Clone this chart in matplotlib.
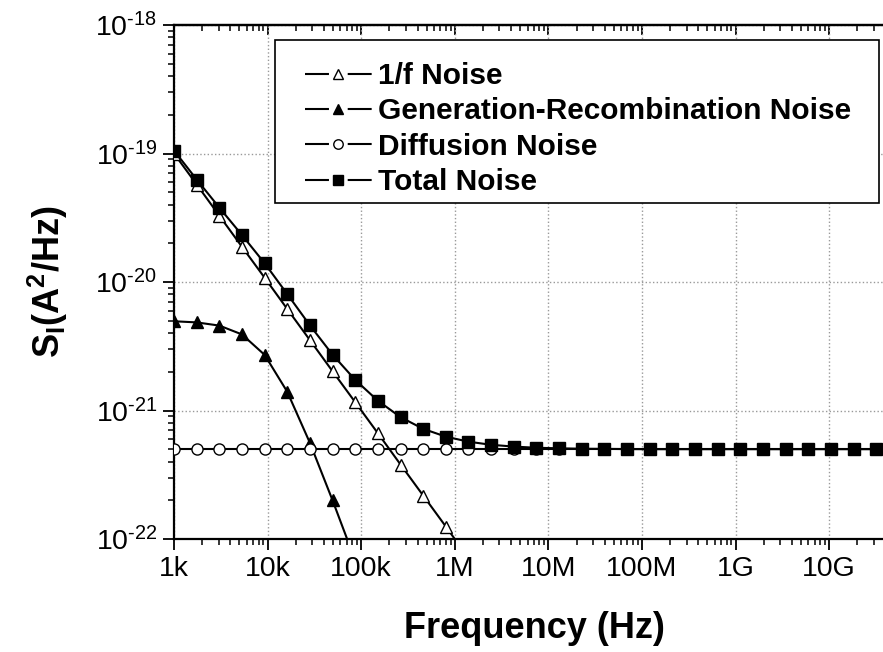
import matplotlib
matplotlib.use("Agg")
import matplotlib.pyplot as plt
from matplotlib.lines import Line2D
from matplotlib.patches import Rectangle
from matplotlib.ticker import FixedLocator, FixedFormatter, LogLocator, NullFormatter

plt.rcParams['font.family'] = ['Liberation Sans', 'DejaVu Sans']
plt.rcParams['mathtext.fontset'] = 'custom'
plt.rcParams['mathtext.rm'] = 'Liberation Sans'
plt.rcParams['mathtext.bf'] = 'Liberation Sans:bold'
plt.rcParams['axes.unicode_minus'] = False

# frequency points (Hz), log spaced
freq = [1.0e3, 1.75e3, 3.05e3, 5.32e3, 9.29e3, 1.62e4, 2.83e4, 4.94e4,
        8.63e4, 1.51e5, 2.63e5, 4.59e5, 8.02e5, 1.40e6, 2.44e6, 4.26e6,
        7.44e6, 1.30e7, 2.27e7, 3.96e7, 6.91e7, 1.21e8, 2.11e8, 3.68e8,
        6.42e8, 1.12e9, 1.96e9, 3.42e9, 5.96e9, 1.04e10, 1.82e10, 3.16e10]

one_f = [1.0e-19, 5.73e-20, 3.28e-20, 1.88e-20, 1.08e-20, 6.17e-21, 3.53e-21,
         2.02e-21, 1.16e-21, 6.64e-22, 3.80e-22, 2.18e-22, 1.25e-22, 7.1e-23]

gen_rec = [4.95e-21, 4.85e-21, 4.58e-21, 3.91e-21, 2.71e-21, 1.40e-21,
           5.6e-22, 2.0e-22, 6.8e-23]

diffusion = [5.0e-22] * 32

total = [1.055e-19, 6.26e-20, 3.79e-20, 2.32e-20, 1.40e-20, 8.06e-21,
         4.60e-21, 2.72e-21, 1.73e-21, 1.19e-21, 8.88e-22, 7.20e-22,
         6.26e-22, 5.72e-22, 5.41e-22, 5.24e-22, 5.13e-22, 5.08e-22,
         5.04e-22, 5.03e-22, 5.01e-22, 5.0e-22, 5.0e-22, 5.0e-22,
         5.0e-22, 5.0e-22, 5.0e-22, 5.0e-22, 5.0e-22, 5.0e-22, 5.0e-22, 5.0e-22]

xtick_vals = [1e3, 1e4, 1e5, 1e6, 1e7, 1e8, 1e9, 1e10]
xtick_labels = ['1k', '10k', '100k', '1M', '10M', '100M', '1G', '10G']
ytick_vals = [1e-22, 1e-21, 1e-20, 1e-19, 1e-18]
ytick_labels = [r'$\mathregular{10^{\text{-}22}}$', r'$\mathregular{10^{\text{-}21}}$',
                r'$\mathregular{10^{\text{-}20}}$', r'$\mathregular{10^{\text{-}19}}$',
                r'$\mathregular{10^{\text{-}18}}$']

labels = ['1/f Noise', 'Generation-Recombination Noise', 'Diffusion Noise', 'Total Noise']

fig = plt.figure(figsize=(8.83, 6.52), dpi=100)
W, H = 883, 652
ax = fig.add_axes([0.1971, 0.1733, 0.8029, 0.7883])

lw = 1.5
ax.plot(freq[:len(one_f)], one_f, '-', color='black', lw=lw, marker='^',
        ms=9, mfc='white', mec='black', mew=1, zorder=3)
ax.plot(freq[:len(gen_rec)], gen_rec, '-', color='black', lw=lw, marker='^',
        ms=9, mfc='black', mec='black', mew=1, zorder=3)
ax.plot(freq, diffusion, '-', color='black', lw=lw, marker='o',
        ms=8, mfc='white', mec='black', mew=1, zorder=4)
ax.plot(freq, total, '-', color='black', lw=lw, marker='s',
        ms=8, mfc='black', mec='black', mew=1, zorder=5)

ax.set_xscale('log')
ax.set_yscale('log')
ax.set_xlim(1e3, 3.76e10)
ax.set_ylim(1e-22, 1e-18)

ax.xaxis.set_major_locator(FixedLocator(xtick_vals))
ax.xaxis.set_major_formatter(FixedFormatter(xtick_labels))
ax.xaxis.set_minor_locator(LogLocator(base=10, subs=range(2, 10), numticks=100))
ax.xaxis.set_minor_formatter(NullFormatter())
ax.yaxis.set_major_locator(FixedLocator(ytick_vals))
ax.yaxis.set_major_formatter(FixedFormatter(ytick_labels))
ax.yaxis.set_minor_locator(LogLocator(base=10, subs=range(2, 10), numticks=100))
ax.yaxis.set_minor_formatter(NullFormatter())

ax.grid(which='major', linestyle=':', color='#999999', lw=1)
ax.tick_params(which='major', direction='out', length=8, width=1.3, labelsize=20.5, pad=4)
ax.tick_params(which='minor', direction='out', length=4, width=1.1)
ax.tick_params(top=False, right=False)
for side in ['left', 'bottom', 'top']:
    ax.spines[side].set_linewidth(1.6)
ax.spines['right'].set_visible(False)

# inward ticks on the top edge
sec = ax.secondary_xaxis('top')
sec.xaxis.set_major_locator(FixedLocator(xtick_vals))
sec.xaxis.set_minor_locator(LogLocator(base=10, subs=range(2, 10), numticks=100))
sec.xaxis.set_major_formatter(NullFormatter())
sec.xaxis.set_minor_formatter(NullFormatter())
sec.tick_params(which='major', direction='in', length=7, width=1.3)
sec.tick_params(which='minor', direction='in', length=4, width=1.1)
sec.spines['top'].set_linewidth(1.6)

# legend box drawn by hand, entries placed inside it
fig.patches.append(Rectangle((275 / W, 1 - 203 / H), 604 / W, 163 / H,
                             transform=fig.transFigure, fill=True, facecolor='white',
                             edgecolor='black', lw=1.2, zorder=6))

dash = (0, (11.5, 9.0, 11.5, 50))
handles = [
    Line2D([], [], color='black', lw=lw, ls=dash, marker='^', ms=9, mfc='white', mec='black', mew=1),
    Line2D([], [], color='black', lw=lw, ls=dash, marker='^', ms=9, mfc='black', mec='black', mew=1),
    Line2D([], [], color='black', lw=lw, ls=dash, marker='o', ms=8, mfc='white', mec='black', mew=1),
    Line2D([], [], color='black', lw=lw, ls=dash, marker='s', ms=8, mfc='black', mec='black', mew=1),
]
leg = fig.legend(handles, labels, loc='upper left', bbox_to_anchor=(305 / W, 1 - 62 / H),
                 bbox_transform=fig.transFigure, borderaxespad=0, borderpad=0, frameon=False,
                 prop={'size': 21.5, 'weight': 'bold'},
                 handlelength=2.24, handletextpad=0.2, labelspacing=0.25,
                 markerscale=0.85, numpoints=1)
leg.set_zorder(7)

fig.text(48 / W, 1 - 282 / H, r'S$_\mathbf{I}$(A$^\mathbf{2}$/Hz)', rotation=90,
         ha='center', va='center', fontsize=26, fontweight='bold')
fig.text(534 / W, 1 - 638 / H, 'Frequency (Hz)', ha='center', va='baseline',
         fontsize=26, fontweight='bold')

fig.savefig('out.png', dpi=100)
